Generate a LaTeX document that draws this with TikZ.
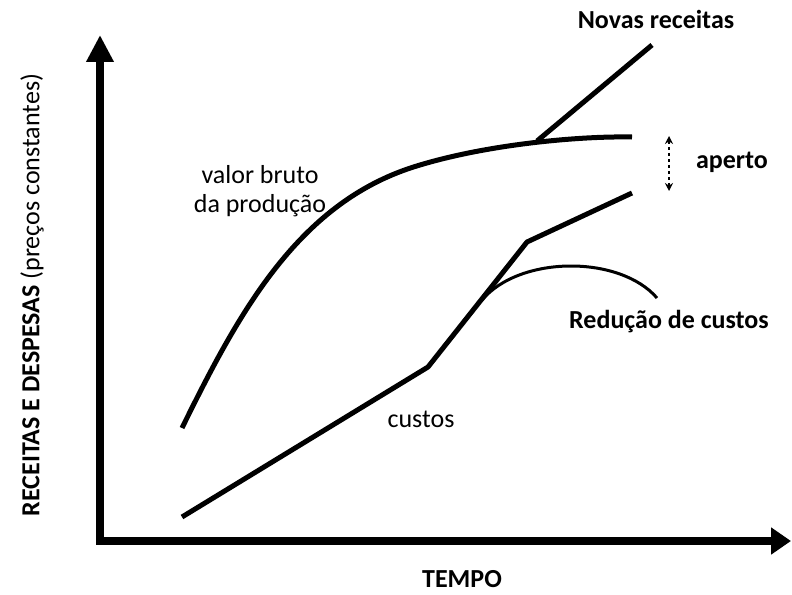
\documentclass[tikz,border=0pt]{standalone}
\usepackage{fontspec}
\setmainfont{Carlito}
\usetikzlibrary{arrows.meta}

\begin{document}
\begin{tikzpicture}[x=1pt,y=-1pt,
  axis/.style={line width=8pt},
  curve/.style={line width=5pt},
  txt/.style={font=\fontsize{26}{29}\selectfont},
  bold/.style={font=\fontsize{26}{30}\selectfont\bfseries}]
 % \draw[help lines] (0,0) grid[step=50] (792,594);
  \useasboundingbox (0,0) rectangle (792,594);
  \coordinate (o) at (100,541);
  \coordinate (ytop) at (100,35);
  \coordinate (xend) at (791,541);
  \draw[axis,-{Triangle[length=27pt,width=26pt]}] (o) -- (ytop);
  \draw[axis,-{Triangle[length=20pt,width=26pt]}] ([xshift=-4pt]o) -- (xend);

  \coordinate (v0) at (182,428);
  \coordinate (vmid) at (420,165);
  \coordinate (vmeet) at (537,141);
  \coordinate (v1) at (632,137);
  \coordinate (nr) at (652,45);
  \draw[curve] (v0) .. controls (240,310) and (300,200) .. (vmid)
    .. controls (490,144) and (580,136) .. (v1);
  \draw[curve] (vmeet) -- (nr);

  \coordinate (c0) at (182,517);
  \coordinate (c1) at (428,367);
  \coordinate (cb) at (482,300);
  \coordinate (c2) at (527,242);
  \coordinate (c3) at (632,193);
  \draw[curve,line join=round] (c0) -- (c1) -- (c2) -- (c3);
  \draw[line width=3pt] (cb) .. controls (520,255) and (620,255) .. (657,298);

  \coordinate (ap0) at (669,136);
  \coordinate (ap1) at (669,191);
  \draw[line width=1.6pt,dashed,{Stealth[length=8pt,width=8pt]}-{Stealth[length=8pt,width=8pt]}] (ap0) -- (ap1);

  \node[bold] (novas) at (656,19) {Novas receitas};
  \node[bold] (aperto) at (732,162) {aperto};
  \node[bold] (reducao) at (669,322) {Redução de custos};
  \node[txt,align=center] (valor) at (260,191) {valor bruto\\da produção};
  \node[txt] (custos) at (421,419) {custos};
  \node[bold] (tempo) at (462,579) {TEMPO};
  \node[font=\fontsize{26}{30}\selectfont,rotate=90] (ylabel) at (32,295) {\textbf{RECEITAS E DESPESAS} (preços constantes)};
\end{tikzpicture}
\end{document}
